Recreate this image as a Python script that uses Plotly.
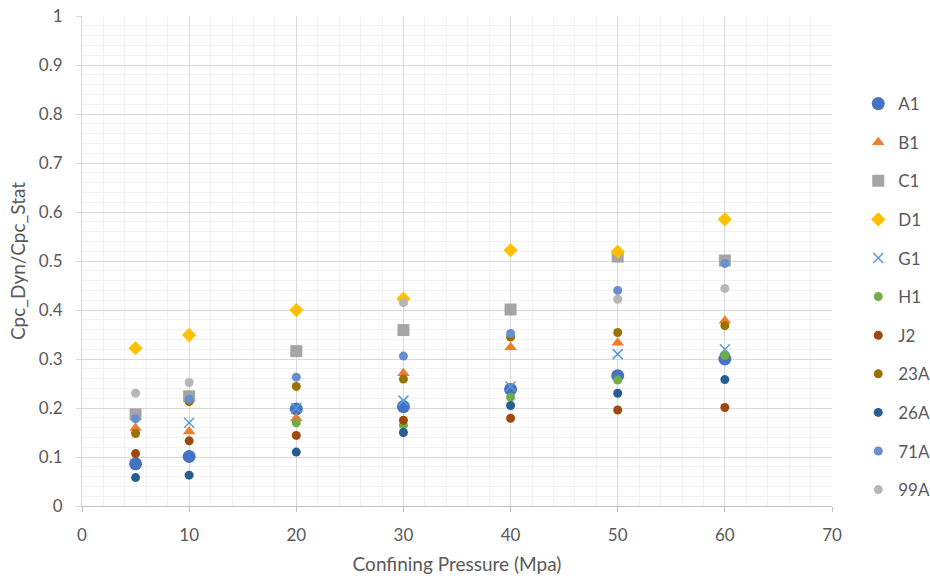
import plotly.graph_objects as go

# Confining pressure steps (MPa)
pressure = [5, 10, 20, 30, 40, 50, 60]

# Cpc_Dyn / Cpc_Stat ratio per sample (None where no measurement)
a1 = [0.086, 0.101, 0.198, 0.203, 0.238, 0.266, 0.300]
b1 = [0.159, 0.152, 0.179, 0.271, 0.324, 0.333, 0.378]
c1 = [0.187, 0.224, 0.316, 0.359, 0.401, 0.509, 0.501]
d1 = [0.322, 0.349, 0.400, 0.423, 0.522, 0.519, 0.585]
g1 = [None, 0.170, 0.200, 0.215, 0.244, 0.310, 0.320]
h1 = [None, None, 0.170, 0.165, 0.222, 0.257, 0.307]
j2 = [0.107, 0.133, 0.144, 0.175, 0.179, 0.196, 0.201]
s23a = [0.148, 0.213, 0.244, 0.259, 0.345, 0.354, 0.368]
s26a = [0.058, 0.063, 0.110, 0.150, 0.205, 0.230, 0.258]
s71a = [0.178, 0.218, 0.263, 0.306, 0.352, 0.440, 0.495]
s99a = [0.230, 0.252, None, 0.415, None, 0.422, 0.444]

series = [
    ("A1", a1, "#4472C4", "circle", 13),
    ("B1", b1, "#ED7D31", "triangle-up", 11),
    ("C1", c1, "#A5A5A5", "square", 12),
    ("D1", d1, "#FFC000", "diamond", 11),
    ("G1", g1, "#5B9BD5", "x-thin", 10),
    ("H1", h1, "#70AD47", "circle", 9),
    ("J2", j2, "#9E480E", "circle", 9),
    ("23A", s23a, "#997300", "circle", 9),
    ("26A", s26a, "#255E91", "circle", 9),
    ("71A", s71a, "#698ED0", "circle", 9),
    ("99A", s99a, "#B7B7B7", "circle", 9),
]

FONT = "Lato, Open Sans, sans-serif"
TXT = "#595959"

fig = go.Figure()
for name, vals, color, symbol, size in series:
    marker = dict(color=color, symbol=symbol, size=size)
    if symbol == "x-thin":
        marker["line"] = dict(color=color, width=1.5)
    else:
        marker["line"] = dict(width=0)
    fig.add_trace(go.Scatter(
        x=pressure, y=vals, mode="markers", name=name,
        legendgroup=name, marker=marker,
    ))

fig.update_layout(
    width=930, height=579,
    margin=dict(l=82, r=98, t=16, b=73, autoexpand=False),
    paper_bgcolor="white", plot_bgcolor="white",
    font=dict(family=FONT, color=TXT, size=16),
    legend=dict(
        x=1.035, xanchor="left", y=0.857, yanchor="top",
        font=dict(size=17, color=TXT, family=FONT),
        tracegroupgap=13.5, itemwidth=30,
    ),
)

fig.update_xaxes(
    range=[0, 70], dtick=10, tick0=0,
    showgrid=True, gridcolor="#D9D9D9", gridwidth=1,
    minor=dict(dtick=2, showgrid=True, gridcolor="#F2F2F2", gridwidth=1),
    showline=True, linecolor="#BFBFBF", linewidth=1,
    ticks="outside", ticklen=5, tickcolor="#BFBFBF",
    zeroline=False, ticklabelstandoff=9,
    tickfont=dict(size=17, color=TXT),
    title=dict(text="Confining Pressure (Mpa)", font=dict(size=19, color=TXT), standoff=13),
)
fig.update_yaxes(
    range=[0, 1], dtick=0.1, tick0=0,
    showgrid=True, gridcolor="#D9D9D9", gridwidth=1,
    minor=dict(dtick=0.02, showgrid=True, gridcolor="#F2F2F2", gridwidth=1),
    showline=True, linecolor="#D9D9D9", linewidth=1,
    ticks="outside", ticklen=5, tickcolor="#D9D9D9",
    zeroline=False, ticklabelstandoff=10,
    tickfont=dict(size=17, color=TXT),
    title=dict(text="Cpc_Dyn/Cpc_Stat", font=dict(size=19, color=TXT), standoff=8),
)

fig.write_html("out.html")
